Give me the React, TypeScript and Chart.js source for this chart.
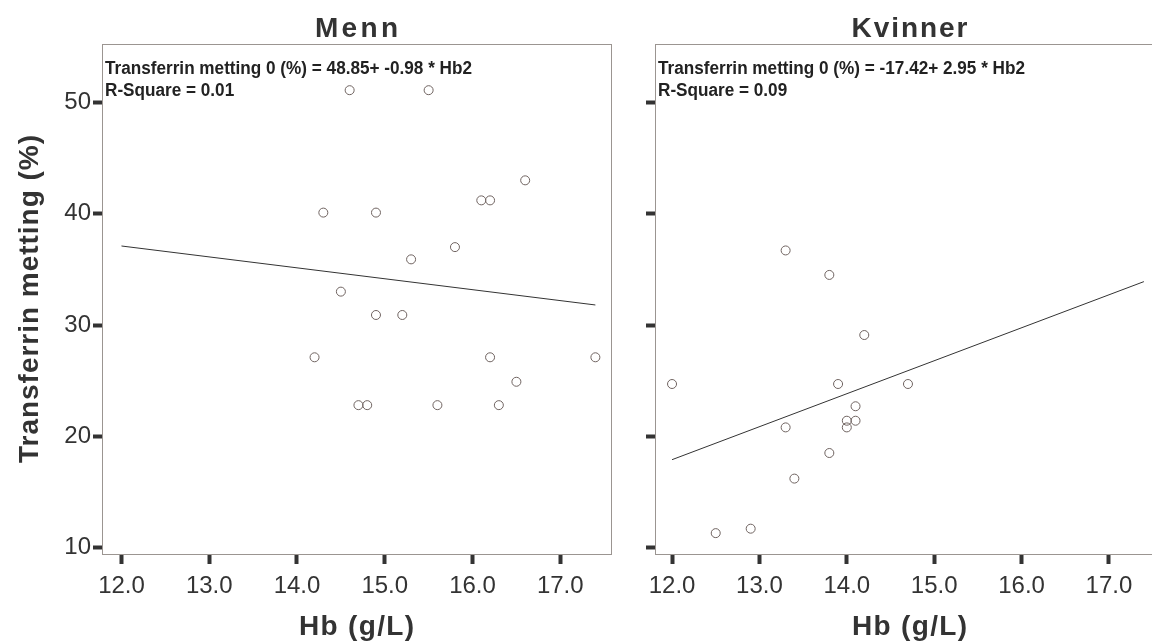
import React, { useEffect, useRef } from 'react';
import { Chart, registerables } from 'chart.js';

Chart.register(...registerables);

// ---- data ----
const xTickValues = [12, 13, 14, 15, 16, 17];
const yTickValues = [10, 20, 30, 40, 50];

const menHb = [14.6, 15.5, 16.6, 16.1, 16.2, 14.3, 14.9, 15.8, 15.3, 14.5, 14.9, 15.2, 14.2, 16.2, 17.4, 16.5, 14.7, 14.8, 15.6, 16.3];
const menTs = [51.1, 51.1, 43.0, 41.2, 41.2, 40.1, 40.1, 37.0, 35.9, 33.0, 30.9, 30.9, 27.1, 27.1, 27.1, 24.9, 22.8, 22.8, 22.8, 22.8];
const menLineHb = [12.0, 17.4];
const menLineTs = [37.1, 31.8];

const womenHb = [12.0, 12.5, 12.9, 13.3, 13.4, 13.8, 13.9, 14.0, 14.0, 14.1, 14.1, 14.2, 14.7, 13.3, 13.8];
const womenTs = [24.7, 11.3, 11.7, 20.8, 16.2, 18.5, 24.7, 21.4, 20.8, 21.4, 22.7, 29.1, 24.7, 36.7, 34.5];
const womenLineHb = [12.0, 17.4];
const womenLineTs = [17.9, 33.9];

const panelTitles = ['Menn', 'Kvinner'];
const xTitle = 'Hb (g/L)';
const yTitle = 'Transferrin metting (%)';
const menEquation = ['Transferrin metting 0 (%) = 48.85+ -0.98 * Hb2', 'R-Square = 0.01'];
const womenEquation = ['Transferrin metting 0 (%) = -17.42+ 2.95 * Hb2', 'R-Square = 0.09'];

const FAMILY = '"Liberation Sans", Arial, Helvetica, sans-serif';

function drawFit(ctx: CanvasRenderingContext2D, text: string, cx: number, y: number, target: number) {
  (ctx as any).letterSpacing = '0px';
  const w = ctx.measureText(text).width;
  const n = text.length;
  const ls = (target - w) / (n - 1);
  (ctx as any).letterSpacing = ls + 'px';
  ctx.textAlign = 'left';
  ctx.textBaseline = 'alphabetic';
  ctx.fillText(text, cx - target / 2, y);
  (ctx as any).letterSpacing = '0px';
}

const decorPlugin = {
  id: 'panelDecor',
  afterDraw(chart: any, _args: any, o: any) {
    const { ctx, chartArea: a } = chart;
    ctx.save();
    // box
    ctx.strokeStyle = '#9b9591';
    ctx.lineWidth = 1;
    ctx.strokeRect(Math.floor(a.left) + 0.5, Math.floor(a.top) + 0.5, Math.round(a.right - a.left), Math.round(a.bottom - a.top));
    const cx = (a.left + a.right) / 2;
    ctx.fillStyle = '#333333';
    // panel title
    ctx.font = `bold 28px ${FAMILY}`;
    drawFit(ctx, o.title, cx, 37, o.titleWidth);
    // x title
    ctx.font = `bold 28px ${FAMILY}`;
    drawFit(ctx, xTitle, cx, 635, 115);
    // y title
    if (o.showYTitle) {
      ctx.save();
      ctx.translate(38, (a.top + a.bottom) / 2);
      ctx.rotate(-Math.PI / 2);
      ctx.font = `bold 28px ${FAMILY}`;
      drawFit(ctx, yTitle, 0, 0, 328);
      ctx.restore();
    }
    // equation
    ctx.fillStyle = '#222222';
    ctx.font = `bold 18px ${FAMILY}`;
    ctx.textAlign = 'left';
    ctx.textBaseline = 'alphabetic';
    const w1 = ctx.measureText(o.eq[0]).width;
    const sx = 367 / w1;
    ctx.save();
    ctx.translate(a.left + 3, 74);
    ctx.scale(sx, 1);
    ctx.fillText(o.eq[0], 0, 0);
    ctx.fillText(o.eq[1], 0, 22);
    ctx.restore();
    ctx.restore();
  },
};

function makeConfig(opts: {
  hb: number[]; ts: number[]; lineHb: number[]; lineTs: number[];
  xMin: number; xMax: number; yWidth: number; padRight: number;
  showYLabels: boolean; title: string; titleWidth: number; eq: string[];
}): any {
  return {
    type: 'scatter',
    data: {
      datasets: [
        {
          data: opts.lineHb.map((v, i) => ({ x: v, y: opts.lineTs[i] })),
          showLine: true,
          borderColor: '#333333',
          borderWidth: 1,
          pointRadius: 0,
          fill: false,
        },
        {
          data: opts.hb.map((v, i) => ({ x: v, y: opts.ts[i] })),
          pointRadius: 4.5,
          pointBorderWidth: 1,
          pointBorderColor: '#6f6360',
          pointBackgroundColor: 'rgba(0,0,0,0)',
          showLine: false,
        },
      ],
    },
    options: {
      responsive: false,
      animation: false,
      devicePixelRatio: 1,
      layout: { autoPadding: false, padding: { top: 44, left: 0, right: opts.padRight, bottom: 0 } },
      plugins: {
        legend: { display: false },
        tooltip: { enabled: false },
        panelDecor: { title: opts.title, titleWidth: opts.titleWidth, eq: opts.eq, showYTitle: opts.showYLabels },
      },
      scales: {
        x: {
          type: 'linear',
          min: opts.xMin,
          max: opts.xMax,
          afterBuildTicks: (s: any) => { s.ticks = xTickValues.map((v) => ({ value: v })); },
          afterFit: (s: any) => { s.height = 90; },
          ticks: {
            autoSkip: false,
            maxRotation: 0,
            padding: 8,
            color: '#333333',
            font: { family: FAMILY, size: 24 },
            callback: (v: any) => Number(v).toFixed(1),
          },
          grid: { drawOnChartArea: false, drawTicks: true, tickLength: 10, tickWidth: 4, tickColor: '#333333' },
          border: { display: false },
        },
        y: {
          type: 'linear',
          min: 9.425,
          max: 55.25,
          afterBuildTicks: (s: any) => { s.ticks = yTickValues.map((v) => ({ value: v })); },
          afterFit: (s: any) => { s.width = opts.yWidth; },
          ticks: {
            autoSkip: false,
            padding: 2,
            color: '#333333',
            font: { family: FAMILY, size: 24 },
            callback: (v: any) => (opts.showYLabels ? String(v) : ''),
          },
          grid: { drawOnChartArea: false, drawTicks: true, tickLength: 9, tickWidth: 4, tickColor: '#333333' },
          border: { display: false },
        },
      },
    },
    plugins: [decorPlugin],
  };
}

export default function App() {
  const leftRef = useRef<HTMLCanvasElement>(null);
  const rightRef = useRef<HTMLCanvasElement>(null);

  useEffect(() => {
    const left = new Chart(leftRef.current as HTMLCanvasElement, makeConfig({
      hb: menHb, ts: menTs, lineHb: menLineHb, lineTs: menLineTs,
      xMin: 11.778, xMax: 17.578, yWidth: 102, padRight: 29,
      showYLabels: true, title: panelTitles[0], titleWidth: 83, eq: menEquation,
    }));
    const right = new Chart(rightRef.current as HTMLCanvasElement, makeConfig({
      hb: womenHb, ts: womenTs, lineHb: womenLineHb, lineTs: womenLineTs,
      xMin: 11.805, xMax: 17.63, yWidth: 15, padRight: 36,
      showYLabels: false, title: panelTitles[1], titleWidth: 116, eq: womenEquation,
    }));
    return () => { left.destroy(); right.destroy(); };
  }, []);

  return (
    <div style={{ position: 'fixed', left: 0, top: 0, width: 1152, height: 644, overflow: 'hidden', background: '#ffffff' }}>
      <canvas ref={leftRef} width={640} height={644} style={{ position: 'absolute', left: 0, top: 0, width: 640, height: 644 }} />
      <canvas ref={rightRef} width={560} height={644} style={{ position: 'absolute', left: 640, top: 0, width: 560, height: 644 }} />
    </div>
  );
}
